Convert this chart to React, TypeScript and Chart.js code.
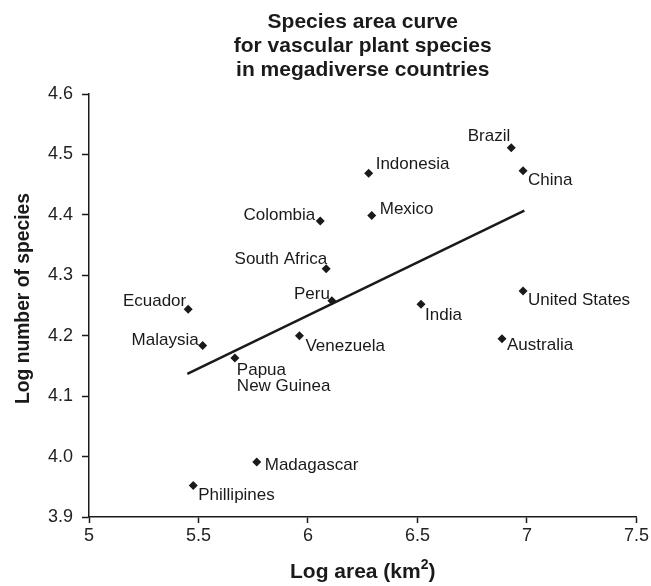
import React, { useEffect, useRef } from 'react';
import { Chart, registerables } from 'chart.js';

Chart.register(...registerables);

const countries = [
  'Brazil', 'Indonesia', 'China', 'Mexico', 'Colombia', 'South Africa', 'Peru', 'Ecuador',
  'United States', 'India', 'Australia', 'Venezuela', 'Malaysia', 'Papua\nNew Guinea', 'Madagascar', 'Phillipines',
];
const logArea = [6.928, 6.277, 6.982, 6.291, 6.056, 6.083, 6.109, 5.453, 6.982, 6.516, 6.886, 5.961, 5.519, 5.666, 5.766, 5.476];
const logSpecies = [4.511, 4.469, 4.473, 4.399, 4.39, 4.311, 4.258, 4.244, 4.274, 4.252, 4.195, 4.2, 4.184, 4.163, 3.991, 3.952];
const trendX = [5.449, 6.988];
const trendY = [4.137, 4.407];
const xTicks = [5, 5.5, 6, 6.5, 7, 7.5];
const yTicks = [3.9, 4.0, 4.1, 4.2, 4.3, 4.4, 4.5, 4.6];
const titleLines = ['Species area curve', 'for vascular plant species', 'in megadiverse countries'];

// label placement relative to each marker: side ('L' = text left of point), dx, dy (px)
const labelPlacement: [string, number, number][] = [
  ['L', -1, -11], ['R', 7, -9], ['R', 5, 10], ['R', 8, -6], ['L', -5, -6], ['L', 1, -9], ['L', -2, -6], ['L', -2, -8],
  ['R', 5, 9], ['R', 4, 11], ['R', 5, 7], ['R', 6, 11], ['L', -4, -5], ['R', 2, 12], ['R', 8, 3], ['R', 5, 10],
];

const FONT = '"Liberation Sans", Arial, Helvetica, sans-serif';
const INK = '#1a1a1a';

const decorPlugin = {
  id: 'decor',
  afterDatasetsDraw(chart: any) {
    const ctx = chart.ctx;
    const meta = chart.getDatasetMeta(0);
    ctx.save();
    ctx.font = `17px ${FONT}`;
    ctx.fillStyle = INK;
    ctx.textBaseline = 'middle';
    meta.data.forEach((pt: any, i: number) => {
      const [side, dx, dy] = labelPlacement[i];
      ctx.textAlign = side === 'L' ? 'right' : 'left';
      const lines = countries[i].split('\n');
      lines.forEach((ln, k) => {
        ctx.fillText(ln, pt.x + dx, pt.y + dy + k * 16);
      });
    });
    ctx.restore();
  },
  afterDraw(chart: any) {
    const ctx = chart.ctx;
    const area = chart.chartArea;
    const cx = (area.left + area.right) / 2;
    ctx.save();
    ctx.fillStyle = INK;
    ctx.textAlign = 'center';
    ctx.textBaseline = 'middle';
    ctx.font = `bold 21px ${FONT}`;
    titleLines.forEach((t, i) => ctx.fillText(t, cx, 22 + i * 24));

    // x axis title with superscript
    const main = 'Log area (km';
    const sup = '2';
    const end = ')';
    ctx.font = `bold 21px ${FONT}`;
    const wMain = ctx.measureText(main).width;
    const wEnd = ctx.measureText(end).width;
    ctx.font = `bold 14px ${FONT}`;
    const wSup = ctx.measureText(sup).width;
    const total = wMain + wSup + wEnd;
    const x0 = cx - total / 2;
    const yT = 572;
    ctx.textAlign = 'left';
    ctx.font = `bold 21px ${FONT}`;
    ctx.fillText(main, x0, yT);
    ctx.font = `bold 14px ${FONT}`;
    ctx.fillText(sup, x0 + wMain, yT - 7);
    ctx.font = `bold 21px ${FONT}`;
    ctx.fillText(end, x0 + wMain + wSup, yT);

    // y axis title
    ctx.translate(24, (area.top + area.bottom) / 2 - 7);
    ctx.rotate(-Math.PI / 2);
    ctx.textAlign = 'center';
    ctx.font = `bold 19.3px ${FONT}`;
    ctx.fillText('Log number of species', 0, 0);
    ctx.restore();
  },
};

export default function App() {
  const ref = useRef<HTMLCanvasElement>(null);
  useEffect(() => {
    if (!ref.current) return;
    const chart = new Chart(ref.current, {
      type: 'scatter',
      data: {
        datasets: [
          {
            data: logArea.map((x, i) => ({ x, y: logSpecies[i] })),
            pointStyle: 'rectRot',
            pointRadius: 4.5,
            pointBackgroundColor: INK,
            pointBorderColor: INK,
            pointBorderWidth: 0,
            showLine: false,
          } as any,
          {
            type: 'line',
            data: trendX.map((x, i) => ({ x, y: trendY[i] })),
            borderColor: INK,
            borderWidth: 2.5,
            pointRadius: 0,
            fill: false,
            showLine: true,
          } as any,
        ],
      },
      options: {
        responsive: false,
        animation: false,
        layout: { padding: { top: 94, right: 14, left: 0, bottom: 0 } },
        plugins: { legend: { display: false }, tooltip: { enabled: false }, title: { display: false } },
        scales: {
          x: {
            type: 'linear',
            min: 5,
            max: 7.5,
            afterBuildTicks: (s: any) => { s.ticks = xTicks.map((v) => ({ value: v })); },
            afterFit: (s: any) => { s.height = 69; },
            grid: { display: true, drawOnChartArea: false, drawTicks: true, tickLength: 6, tickColor: INK, tickWidth: 1.5 },
            border: { display: true, color: INK, width: 1.5 },
            ticks: {
              font: { family: FONT, size: 18 },
              color: '#222',
              padding: 2,
              maxRotation: 0,
              autoSkip: false,
              callback: (v: any) => String(Number(v)),
            },
          },
          y: {
            type: 'linear',
            min: 3.9,
            max: 4.6,
            afterBuildTicks: (s: any) => { s.ticks = yTicks.map((v) => ({ value: v })); },
            afterFit: (s: any) => { s.width = 89; },
            grid: { display: true, drawOnChartArea: false, drawTicks: true, tickLength: 7, tickColor: INK, tickWidth: 1.5 },
            border: { display: true, color: INK, width: 1.5 },
            ticks: {
              font: { family: FONT, size: 18 },
              color: '#222',
              padding: 9,
              autoSkip: false,
              callback: (v: any) => Number(v).toFixed(1),
            },
          },
        },
      },
      plugins: [decorPlugin],
    });
    return () => chart.destroy();
  }, []);
  return (
    <div style={{ position: 'absolute', left: 0, top: 0, width: 651, height: 586, background: '#fff' }}>
      <canvas ref={ref} width={651} height={586} />
    </div>
  );
}
